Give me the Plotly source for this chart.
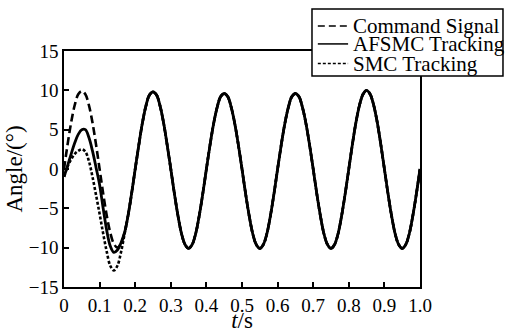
import plotly.graph_objects as go

# time samples (s)
t = [round(i * 0.01, 2) for i in range(101)]

# Command signal (deg)
command = [
    0.0, 3.1, 5.9, 8.1, 9.5, 9.9, 9.5, 8.1, 5.9, 3.1,
    0.0, -3.1, -5.9, -8.1, -9.5, -10.0, -9.5, -8.1, -5.9, -3.1,
    0.0, 3.0, 5.8, 8.0, 9.4, 9.8, 9.4, 8.0, 5.8, 3.0,
    0.0, -3.1, -5.9, -8.2, -9.6, -10.1, -9.6, -8.2, -5.9, -3.1,
    0.0, 3.0, 5.7, 7.8, 9.2, 9.6, 9.2, 7.8, 5.7, 3.0,
    0.0, -3.1, -5.9, -8.2, -9.6, -10.1, -9.6, -8.2, -5.9, -3.1,
    0.0, 3.0, 5.7, 7.8, 9.2, 9.6, 9.2, 7.8, 5.7, 3.0,
    0.0, -3.1, -5.9, -8.2, -9.6, -10.1, -9.6, -8.2, -5.9, -3.1,
    0.0, 3.1, 5.9, 8.1, 9.5, 10.0, 9.5, 8.1, 5.9, 3.1,
    0.0, -3.1, -5.9, -8.2, -9.6, -10.1, -9.6, -8.2, -5.9, -3.1,
    0.0,
]

# transient part of the tracking responses (t = 0 .. 0.17 s)
afsmc_start = [-1.0, 0.4, 1.9, 3.3, 4.4, 5.0, 5.0, 4.0, 2.3, 0.2,
               -2.0, -5.0, -7.8, -9.8, -10.6, -10.3, -9.4, -8.1]
smc_start = [-1.0, 0.3, 1.2, 1.9, 2.3, 2.5, 2.2, 1.0, -1.0, -3.3,
             -5.7, -8.2, -10.5, -12.3, -12.9, -12.3, -10.6, -8.3]

# after the transient both controllers follow the command
afsmc = afsmc_start + command[len(afsmc_start):]
smc = smc_start + command[len(smc_start):]

series_names = ["Command Signal", "AFSMC Tracking", "SMC Tracking"]
series_dash = ["7px,4px", "solid", "3px,2px"]

x_ticks = [0, 0.1, 0.2, 0.3, 0.4, 0.5, 0.6, 0.7, 0.8, 0.9, 1.0]
x_labels = ["0", "0.1", "0.2", "0.3", "0.4", "0.5", "0.6", "0.7", "0.8", "0.9", "1.0"]
y_ticks = [-15, -10, -5, 0, 5, 10, 15]

FONT = "Times New Roman, Liberation Serif, serif"

fig = go.Figure()
fig.add_trace(go.Scatter(x=t, y=command, mode="lines", name=series_names[0],
                         line=dict(color="black", width=2.6, dash="8px,4px", shape="spline")))
fig.add_trace(go.Scatter(x=t, y=smc, mode="lines", name=series_names[2],
                         line=dict(color="black", width=2.6, dash="3px,2px", shape="spline")))
fig.add_trace(go.Scatter(x=t, y=afsmc, mode="lines", name=series_names[1],
                         line=dict(color="black", width=2.8, shape="spline")))

fig.update_layout(
    width=509, height=333,
    margin=dict(l=64, r=89, t=51, b=46, autoexpand=False),
    paper_bgcolor="white", plot_bgcolor="white",
    font=dict(family=FONT, size=19, color="black"),
    showlegend=False,
)

# legend box (drawn in paper coordinates, overlapping the top-right corner)
box_x0, box_x1, box_y0, box_y1 = 0.6966, 1.2331, 0.894, 1.178
fig.add_shape(type="rect", xref="paper", yref="paper",
              x0=box_x0, x1=box_x1, y0=box_y0, y1=box_y1,
              line=dict(color="black", width=1.5), fillcolor="white", layer="above")
row_y = [1.106, 1.030, 0.947]
for name, dash, yy in zip(series_names, series_dash, row_y):
    fig.add_shape(type="line", xref="paper", yref="paper",
                  x0=0.713, x1=0.798, y0=yy, y1=yy, layer="above",
                  line=dict(color="black", width=1.5, dash=dash))
    fig.add_annotation(xref="paper", yref="paper", x=0.805, y=yy,
                       xanchor="left", yanchor="middle", text=name, showarrow=False,
                       font=dict(family=FONT, size=21, color="black"))

fig.update_xaxes(range=[0, 1.0], tickvals=x_ticks, ticktext=x_labels,
                 ticks="inside", ticklen=5, tickwidth=1.5, tickcolor="black",
                 showline=True, linecolor="black", linewidth=1.5, mirror=True,
                 showgrid=False, zeroline=False,
                 title=dict(text="<i>t</i>/s", standoff=4))
fig.update_yaxes(range=[-15, 15], tickvals=y_ticks,
                 ticks="inside", ticklen=5, tickwidth=1.5, tickcolor="black",
                 showline=True, linecolor="black", linewidth=1.5, mirror=True,
                 showgrid=False, zeroline=False,
                 title=dict(text="Angle/(°)", standoff=0))

fig.write_html("out.html", config={"displayModeBar": False},
               post_script="document.body.style.margin='0';")
